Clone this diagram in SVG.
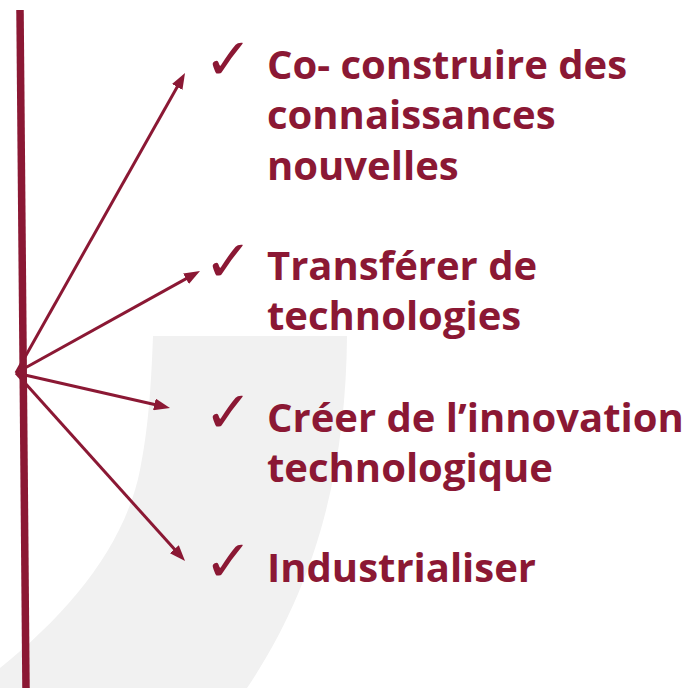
<svg xmlns="http://www.w3.org/2000/svg" width="697" height="688" viewBox="0 0 697 688">
<style>
.lbl{font-family:"Open Sans","DejaVu Sans",sans-serif;font-weight:700;font-size:40px;fill:#8B1834}
.chk{font-family:"DejaVu Sans",sans-serif;font-weight:700;font-size:58px;fill:#8B1834}
.con{stroke:#8B1834;stroke-width:3;fill:none}
</style>
<defs>
<marker id="ah" markerUnits="userSpaceOnUse" markerWidth="16" markerHeight="12" refX="8" refY="6" orient="auto">
<path d="M0,0 L16,6 L0,12 Z" fill="#8B1834"/>
</marker>
</defs>
<rect width="697" height="688" fill="#ffffff"/>
<path id="band" d="M153,336 L347,336 C346,460 320,580 247,688 L0,688 L0,668 C70,612 125,545 140,470 C148,430 151,390 153,336 Z" fill="#F1F1F1"/>
<line id="bar" x1="20" y1="10" x2="26" y2="688" stroke="#8B1834" stroke-width="7.5"/>
<g id="connectors">
<line class="con" x1="16" y1="373" x2="181.1" y2="80.0" marker-end="url(#ah)"/>
<line class="con" x1="16" y1="373" x2="193.0" y2="274.9" marker-end="url(#ah)"/>
<line class="con" x1="16" y1="373" x2="162.2" y2="406.2" marker-end="url(#ah)"/>
<line class="con" x1="16" y1="373" x2="179.7" y2="555.1" marker-end="url(#ah)"/>
</g>
<g id="item1">
<text class="chk" x="204" y="79">✓</text>
<text class="lbl" x="267" y="79">Co- construire des</text>
<text class="lbl" x="267" y="129">connaissances</text>
<text class="lbl" x="267" y="180">nouvelles</text>
</g>
<g id="item2">
<text class="chk" x="204" y="281">✓</text>
<text class="lbl" x="267" y="280">Transférer de</text>
<text class="lbl" x="267" y="330">technologies</text>
</g>
<g id="item3">
<text class="chk" x="204" y="432">✓</text>
<text class="lbl" x="267" y="432">Créer de l’innovation</text>
<text class="lbl" x="267" y="482">technologique</text>
</g>
<g id="item4">
<text class="chk" x="204" y="581">✓</text>
<text class="lbl" x="267" y="582">Industrialiser</text>
</g>
</svg>
